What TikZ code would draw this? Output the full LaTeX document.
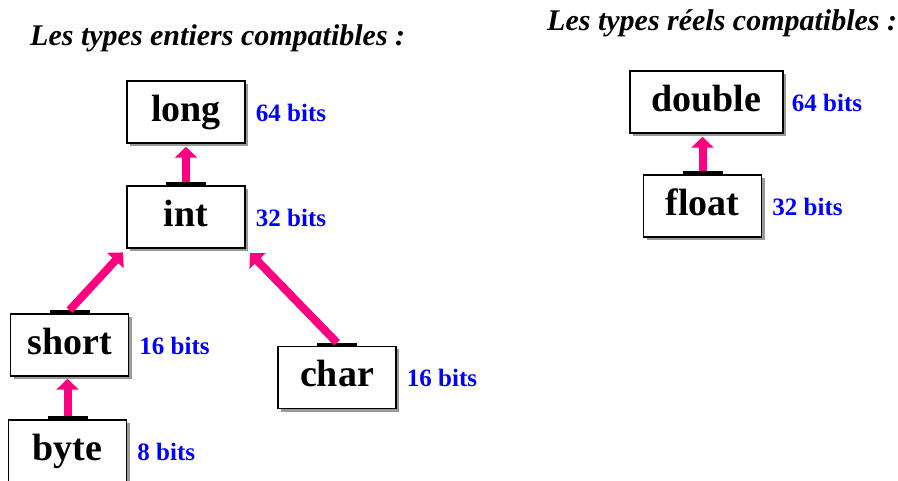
\documentclass[tikz,border=0pt]{standalone}
\usepackage{fontspec}
\setmainfont{Liberation Serif}
\usetikzlibrary{positioning,shadows,arrows.meta}
\definecolor{arrowpink}{RGB}{255,0,128}
\definecolor{bitsblue}{RGB}{0,0,255}

\begin{document}
\begin{tikzpicture}[x=1pt, y=-1pt,
  typebox/.style={draw, line width=1.5pt, fill=white, minimum width=118pt, minimum height=62pt,
    inner sep=0pt, text height=27pt, text depth=8pt, font=\fontsize{38}{40}\selectfont\bfseries,
    drop shadow={shadow xshift=3pt, shadow yshift=-3pt, fill=black!40, opacity=1}},
  bits/.style={text=bitsblue, inner sep=0pt, font=\fontsize{25}{26}\selectfont\bfseries},
  title/.style={anchor=base west, inner sep=0pt, font=\fontsize{30}{32}\selectfont\bfseries\itshape},
  conv/.style={arrowpink, line width=8pt, -{Triangle[width=22pt, length=11pt]}},
  tick/.style={line width=3pt}]

\useasboundingbox (0,0) rectangle (898,481);

% Titles
\node[title] (intstitle) at (30,46) {Les types entiers compatibles :};
\node[title] (realstitle) at (547,31) {Les types réels compatibles :};

% Draw the type boxes
\node[typebox] (long) at (186,112) {long};
\node[typebox] (int) at (186,217) {int};
\node[typebox] (short) at (69.5,345) {short};
\node[typebox] (byte) at (67.5,451) {byte};
\node[typebox] (char) at (337,377.5) {char};
\node[typebox, minimum width=153pt] (double) at (706.5,102) {double};
\node[typebox] (float) at (702.5,206) {float};

% Sizes next to the boxes
\node[bits, base right=10pt of long] (longbits) {64 bits};
\node[bits, base right=10pt of int] (intbits) {32 bits};
\node[bits, base right=10pt of short] (shortbits) {16 bits};
\node[bits, base right=10pt of byte] (bytebits) {8 bits};
\node[bits, base right=10pt of char] (charbits) {16 bits};
\node[bits, base right=8pt of double] (doublebits) {64 bits};
\node[bits, base right=10pt of float] (floatbits) {32 bits};

% Small bars where the arrows leave a box
\foreach \b in {int,short,byte,char,float}
  \draw[tick] ([xshift=-20pt, yshift=1.5pt]\b.north) -- ([xshift=20pt, yshift=1.5pt]\b.north);

% Conversion arrows
\draw[conv] ([yshift=3pt]int.north) -- ([yshift=-3pt]long.south);
\draw[conv, shorten >=5pt] ([yshift=3pt]short.north) -- (int.south west);
\draw[conv, shorten >=6pt] ([yshift=3pt]char.north) -- (int.south east);
\draw[conv, shorten >=2pt] ([yshift=3pt]byte.north) -- (byte.north |- short.south);
\draw[conv, shorten >=3pt] ([yshift=3pt]float.north) -- (float.north |- double.south);
\end{tikzpicture}
\end{document}
